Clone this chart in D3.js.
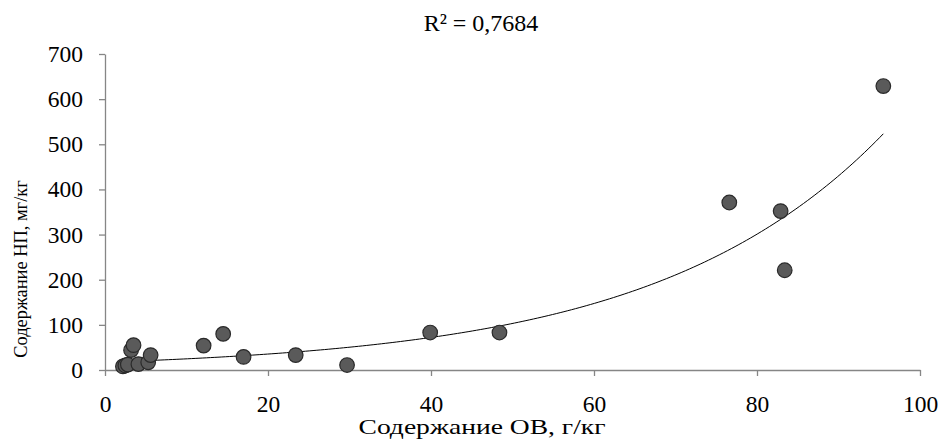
<!DOCTYPE html>
<html>
<head>
<meta charset="utf-8">
<script src="https://cdn.jsdelivr.net/npm/d3@7"></script>
<style>
  body { margin: 0; background: #fff; }
  svg text { font-family: "Liberation Serif", "Times New Roman", serif; fill: #000; }
</style>
</head>
<body>
<div id="chart"></div>
<script>
// values
var ovValues = [2.2, 2.5, 2.8, 3.2, 3.5, 4.1, 5.3, 5.6, 12.1, 14.5, 17.0, 23.4, 29.7, 39.9, 48.4, 76.6, 82.9, 83.4, 95.5];
var npValues = [8, 10, 12, 44, 55, 13, 17, 33, 54, 80, 29, 33, 11, 83, 83, 371, 352, 221, 629];
var xTicks = [0, 20, 40, 60, 80, 100];
var yTicks = [0, 100, 200, 300, 400, 500, 600, 700];
// exponential trendline y = a * e^(b x), as shown on the chart
var trendA = 17.3, trendB = 0.0357;
var r2Label = "R² = 0,7684";

var width = 938, height = 439;
var margin = {top: 54, right: 18, bottom: 69, left: 105};

var svg = d3.select("#chart").append("svg")
    .attr("width", width)
    .attr("height", height);

var x = d3.scaleLinear()
    .domain([0, 100])
    .range([margin.left, width - margin.right]);

var y = d3.scaleLinear()
    .domain([0, 700])
    .range([height - margin.bottom, margin.top]);

var points = ovValues.map(function(v, i) { return {x: v, y: npValues[i]}; });

// axes
var gx = svg.append("g")
    .attr("transform", "translate(0," + y(0) + ")")
    .call(d3.axisBottom(x).tickValues(xTicks).tickSize(6).tickSizeOuter(0).tickPadding(19));
var gy = svg.append("g")
    .attr("transform", "translate(" + x(0) + ",0)")
    .call(d3.axisLeft(y).tickValues(yTicks).tickSize(6).tickSizeOuter(0).tickPadding(16));

[gx, gy].forEach(function(g) {
    g.selectAll("path, line").attr("stroke", "#868686").attr("stroke-width", 1.3);
    g.selectAll("text").attr("font-size", 23.5).attr("fill", "#000")
        .style("font-family", "Liberation Serif");
});

// trendline
var minX = d3.min(ovValues), maxX = d3.max(ovValues);
var trend = d3.range(0, 201).map(function(i) {
    var v = minX + (maxX - minX) * i / 200;
    return [v, trendA * Math.exp(trendB * v)];
});
svg.append("path")
    .datum(trend)
    .attr("fill", "none")
    .attr("stroke", "#000")
    .attr("stroke-width", 1)
    .attr("d", d3.line()
        .x(function(d) { return x(d[0]); })
        .y(function(d) { return y(d[1]); }));

// points
svg.append("g").selectAll("circle")
    .data(points)
    .enter().append("circle")
    .attr("cx", function(d) { return x(d.x); })
    .attr("cy", function(d) { return y(d.y); })
    .attr("r", 7.3)
    .attr("fill", "#5a5a5a")
    .attr("stroke", "#2a2a2a")
    .attr("stroke-width", 1.2);

// titles
svg.append("text")
    .attr("x", 481)
    .attr("y", 31)
    .attr("text-anchor", "middle")
    .attr("font-size", 24)
    .text(r2Label);

svg.append("text")
    .attr("x", 482)
    .attr("y", 434)
    .attr("text-anchor", "middle")
    .attr("font-size", 21)
    .attr("textLength", 247)
    .attr("lengthAdjust", "spacingAndGlyphs")
    .text("Содержание ОВ, г/кг");

svg.append("text")
    .attr("transform", "translate(27," + 269 + ") rotate(-90)")
    .attr("text-anchor", "middle")
    .attr("font-size", 18.4)
    .text("Содержание НП, мг/кг");
</script>
</body>
</html>
